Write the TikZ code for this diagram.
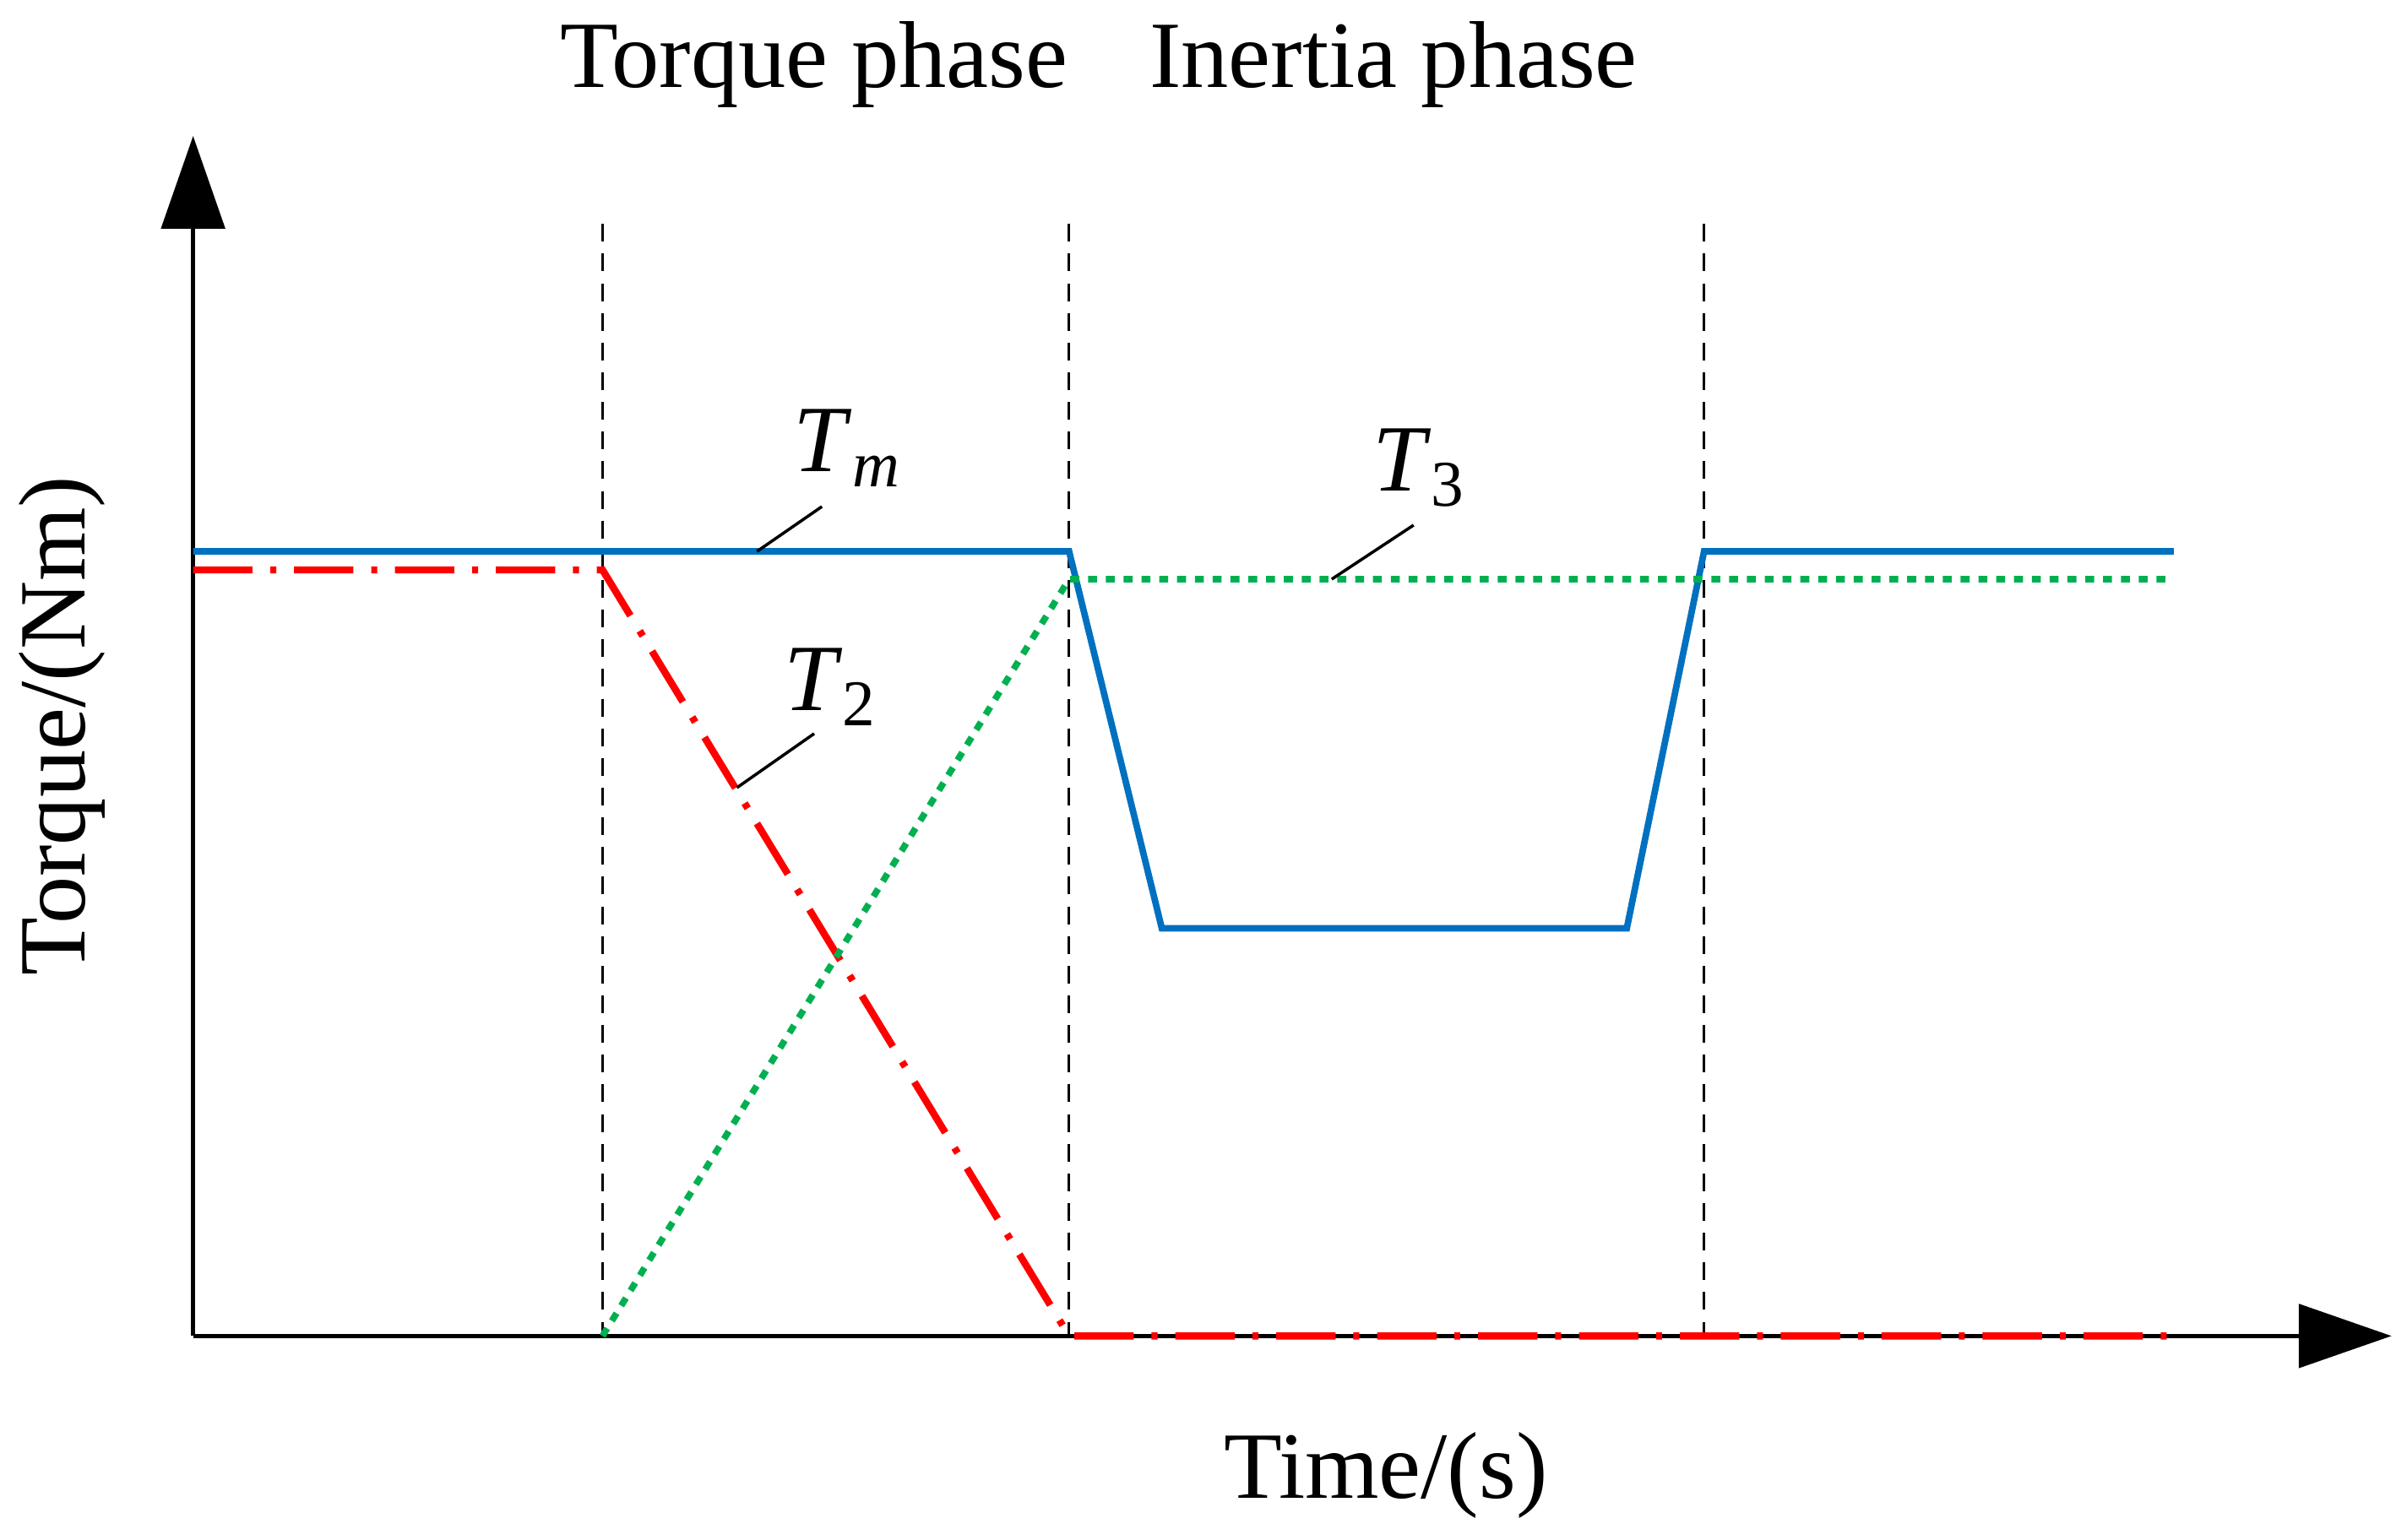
\documentclass[tikz,border=0pt]{standalone}
\usepackage{fontspec}
\setmainfont{Liberation Serif}
\usetikzlibrary{arrows.meta}
\definecolor{cblue}{RGB}{0,112,192}
\definecolor{cred}{RGB}{255,0,0}
\definecolor{cgreen}{RGB}{0,176,80}
\newcommand{\subtx}[1]{\raisebox{-0.35ex}{\fontsize{22}{24}\selectfont #1}}
\begin{document}
\begin{tikzpicture}[x=0.018293cm,y=-0.018293cm,
  axis/.style={line width=1.6pt,-{Triangle[length=1.1cm,width=0.75cm]}},
  guide/.style={line width=0.8pt,dash pattern=on 6pt off 4pt},
  tm/.style={cblue,line width=2.2pt},
  ttwo/.style={cred,line width=2.4pt,dash pattern=on 20pt off 6pt on 2pt off 6pt},
  tthree/.style={cgreen,line width=2.2pt,dash pattern=on 3pt off 3pt},
  lbl/.style={font=\fontsize{32}{36}\selectfont},
  lead/.style={line width=1pt}]
\useasboundingbox (0,0) rectangle (1558,997);
\coordinate (o) at (125,865);
\coordinate (ytip) at (125,88);
\coordinate (xtip) at (1548,865);
\draw[axis] (o) -- (ytip);
\draw[axis] (o) -- (xtip);
\foreach \x/\n in {390/a,692/b,1103/c}{
  \coordinate (g\n t) at (\x,145); \coordinate (g\n b) at (\x,865);
  \draw[guide] (g\n t) -- (g\n b);}
\draw[tm] (125,357) -- (692,357) -- (752,601) -- (1053,601) -- (1103,357) -- (1407,357);
\draw[ttwo] (125,369) -- (390,369) -- (692,865) -- (1407,865);
\draw[tthree] (390,865) -- (692,375) -- (1407,375);
\node[lbl] (tp) at (527,42) {Torque phase};
\node[lbl] (ip) at (902,42) {Inertia phase};
\node[lbl] (tx) at (897,955) {Time/(s)};
\node[lbl,rotate=90] (ty) at (40,470) {Torque/(Nm)};
\node[lbl] (lm) at (548,290) {\textit{T}\subtx{\textit{m}}};
\node[lbl] (l3) at (918,303) {\textit{T}\subtx{3}};
\node[lbl] (l2) at (537,445) {\textit{T}\subtx{2}};
\coordinate (pm) at (490,357); \coordinate (qm) at (532,328);
\coordinate (p3) at (862,375); \coordinate (q3) at (915,340);
\coordinate (p2) at (477,510); \coordinate (q2) at (527,475);
\draw[lead] (pm) -- (qm);
\draw[lead] (p3) -- (q3);
\draw[lead] (p2) -- (q2);
\end{tikzpicture}
\end{document}
